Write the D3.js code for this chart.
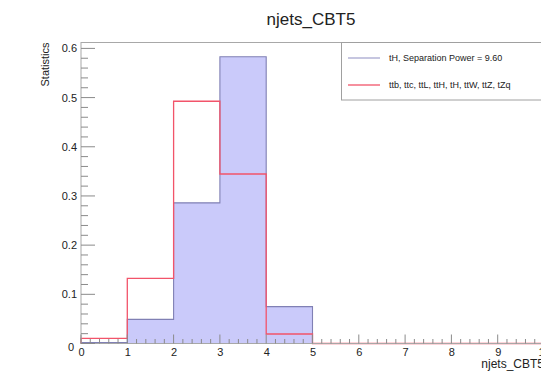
<!DOCTYPE html>
<html>
<head>
<meta charset="utf-8">
<script src="https://cdn.jsdelivr.net/npm/d3@7"></script>
<style>
  html, body { margin: 0; padding: 0; background: #fff; }
  svg { display: block; font-family: "Liberation Sans", Arial, Helvetica, sans-serif; }
</style>
</head>
<body>
<svg id="chart" width="541" height="375"></svg>
<script>
// Bin edges of the njets_CBT5 histogram (0..10, unit width)
const binEdges = [0, 1, 2, 3, 4, 5, 6, 7, 8, 9, 10];
// Normalised distributions per bin
const signalValues = [0.002, 0.049, 0.286, 0.583, 0.075, 0, 0, 0, 0, 0];          // tH
const backgroundValues = [0.0106, 0.1326, 0.4925, 0.3446, 0.0193, 0, 0, 0, 0, 0];  // ttb, ttc, ...
const yTicks = [0, 0.1, 0.2, 0.3, 0.4, 0.5, 0.6];
const xTicks = [0, 1, 2, 3, 4, 5, 6, 7, 8, 9, 10];
const legendLabels = ["tH, Separation Power = 9.60", "ttb, ttc, ttL, ttH, tH, ttW, ttZ, tZq"];
const titleText = "njets_CBT5";
const xTitle = "njets_CBT5";
const yTitle = "Statistics";

const svg = d3.select("#chart");
const frame = { left: 81, right: 544, top: 42.5, bottom: 343.5 };
const x = d3.scaleLinear().domain([0, 10]).range([frame.left, frame.right]);
const y = d3.scaleLinear().domain([0, 0.612]).range([frame.bottom, frame.top]);

const fillBlue = "#cacafa";
const lineBlue = "#8080b4";
const lineRed = "#f2546a";
const axisGrey = "#8a8a8a";

// Step outline of a histogram, closed down to zero at both ends
function stepPoints(values) {
  const pts = [[binEdges[0], 0]];
  values.forEach((v, i) => {
    pts.push([binEdges[i], v]);
    pts.push([binEdges[i + 1], v]);
  });
  pts.push([binEdges[binEdges.length - 1], 0]);
  return pts;
}
const line = d3.line().x(d => x(d[0])).y(d => y(d[1]));
const area = d3.area().x(d => x(d[0])).y0(y(0)).y1(d => y(d[1]));

const plot = svg.append("g");
plot.append("path")
  .attr("d", area(stepPoints(signalValues)))
  .attr("fill", fillBlue);
plot.append("path")
  .attr("d", line(stepPoints(signalValues)))
  .attr("fill", "none").attr("stroke", lineBlue).attr("stroke-width", 1.1);
plot.append("path")
  .attr("d", line(stepPoints(backgroundValues)))
  .attr("fill", "none").attr("stroke", lineRed).attr("stroke-width", 1.3);

// Frame
svg.append("rect")
  .attr("x", frame.left).attr("y", frame.top)
  .attr("width", frame.right - frame.left).attr("height", frame.bottom - frame.top)
  .attr("fill", "none").attr("stroke", "#a8a8a8").attr("stroke-width", 1);

// X axis: major ticks at integers, minor ticks every 0.2
const xAxis = d3.axisBottom(x).tickValues(xTicks).tickSize(0).tickFormat(d3.format("d")).tickPadding(3);
const gx = svg.append("g").attr("transform", `translate(0,${frame.bottom})`).call(xAxis);
gx.select(".domain").remove();
gx.selectAll("text").attr("font-size", 11).attr("fill", "#222").attr("dy", "0.85em");
const xMinor = d3.range(0, 10.001, 0.2);
svg.append("g").selectAll("line").data(xMinor).join("line")
  .attr("x1", d => x(d)).attr("x2", d => x(d))
  .attr("y1", frame.bottom)
  .attr("y2", d => frame.bottom - (Math.abs(d - Math.round(d)) < 1e-6 ? 9 : 4.5))
  .attr("stroke", axisGrey).attr("stroke-width", 1);

// Y axis: major ticks every 0.1, minor every 0.02
const yAxis = d3.axisLeft(y).tickValues(yTicks).tickSize(0).tickPadding(4)
  .tickFormat(d => d === 0 ? "0" : d3.format(".1f")(d));
const gy = svg.append("g").attr("transform", `translate(${frame.left},0)`).call(yAxis);
gy.select(".domain").remove();
gy.selectAll("text").attr("font-size", 11).attr("fill", "#222");
gy.selectAll(".tick").filter(d => d === 0).select("text").attr("dy", "0.6em").attr("x", -7);
const yMinor = d3.range(0, 0.6101, 0.02);
svg.append("g").selectAll("line").data(yMinor).join("line")
  .attr("y1", d => y(d)).attr("y2", d => y(d))
  .attr("x1", frame.left)
  .attr("x2", d => frame.left + (Math.abs(d * 10 - Math.round(d * 10)) < 1e-6 ? 14 : 7))
  .attr("stroke", axisGrey).attr("stroke-width", 1);

// Axis titles
svg.append("text")
  .attr("x", frame.right).attr("y", 368)
  .attr("text-anchor", "end").attr("font-size", 12).attr("fill", "#222")
  .text(xTitle);
svg.append("text")
  .attr("transform", `translate(49,${frame.top}) rotate(-90)`)
  .attr("text-anchor", "end").attr("font-size", 11).attr("fill", "#222")
  .text(yTitle);

// Title
svg.append("text")
  .attr("x", 311).attr("y", 25)
  .attr("text-anchor", "middle").attr("font-size", 17).attr("fill", "#222")
  .text(titleText);

// Legend
const legend = svg.append("g");
legend.append("rect")
  .attr("x", 341.5).attr("y", 42.5).attr("width", 230).attr("height", 57.5)
  .attr("fill", "#fff").attr("stroke", "#a0a0a0").attr("stroke-width", 1);
const legendStroke = ["#a8a8d0", lineRed];
const legendY = [58, 85];
legendLabels.forEach((label, i) => {
  legend.append("line")
    .attr("x1", 348).attr("x2", 380)
    .attr("y1", legendY[i]).attr("y2", legendY[i])
    .attr("stroke", legendStroke[i]).attr("stroke-width", 1.3);
  legend.append("text")
    .attr("x", 389).attr("y", legendY[i]).attr("dy", "0.35em")
    .attr("font-size", 9).attr("fill", "#222")
    .text(label);
});
</script>
</body>
</html>
